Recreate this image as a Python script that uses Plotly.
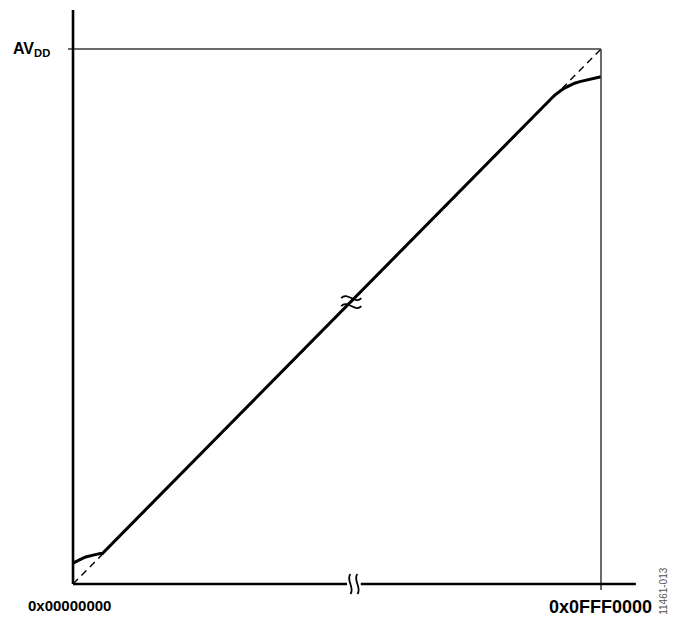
import plotly.graph_objects as go

# Normalised code axis (0 = 0x00000000, 1 = 0x0FFF0000) and output axis (1 = AVDD)
ideal_code = [0.0, 1.0]
ideal_out = [0.0, 1.0]

actual_code = [0.0, 0.008, 0.016, 0.024, 0.032, 0.042, 0.050, 0.056,
               0.912, 0.918, 0.924, 0.932, 0.941, 0.950, 0.960, 0.970, 0.979, 0.990, 1.0]
actual_out = [0.039, 0.0435, 0.047, 0.0505, 0.0530, 0.0550, 0.0565, 0.0575,
              0.9135, 0.9185, 0.9225, 0.9275, 0.9325, 0.9360, 0.9390, 0.9415, 0.9435, 0.9455, 0.948]

x_labels = ["0x00000000", "0x0FFF0000"]
y_label = "AV<sub>DD</sub>"
fig_id = "11461-013"

FONT = "Liberation Sans, Arial, sans-serif"

fig = go.Figure()

# ideal transfer function (dashed)
fig.add_trace(go.Scatter(
    x=ideal_code, y=ideal_out, mode="lines",
    line=dict(color="black", width=1.4, dash="7px,5px"),
    hoverinfo="skip", showlegend=False))

# actual output with rail limiting at both ends
fig.add_trace(go.Scatter(
    x=actual_code, y=actual_out, mode="lines",
    line=dict(color="black", width=3),
    hoverinfo="skip", showlegend=False))

shapes = [
    # full-scale reference lines
    dict(type="line", x0=-0.0095, x1=1.0, y0=1.0, y1=1.0,
         line=dict(color="#3a3a3a", width=1.5)),
    dict(type="line", x0=1.0, x1=1.0, y0=1.0, y1=-0.0112,
         line=dict(color="#3a3a3a", width=1.5)),
    # axes (x axis broken in the middle)
    dict(type="line", x0=0.0, x1=0.0, y0=0.0, y1=1.073,
         line=dict(color="black", width=2.6)),
    dict(type="line", x0=0.0, x1=0.519, y0=0.0, y1=0.0,
         line=dict(color="black", width=2.6)),
    dict(type="line", x0=0.545, x1=1.066, y0=0.0, y1=0.0,
         line=dict(color="black", width=2.6)),
]

# break marks drawn as pixel-sized wavy strokes anchored in data space
tilde_h = "M -10,{y} C -4,{a} 4,{b} 10,{y}"
diag_break = " ".join(tilde_h.format(y=y, a=y + 7, b=y - 7) for y in (4, -4))
tilde_v = "M {x},-10 C {a},-4 {b},4 {x},10"
axis_break = " ".join(tilde_v.format(x=x, a=x + 5, b=x - 5) for x in (-3.5, 3.5))

shapes += [
    dict(type="path", xsizemode="pixel", ysizemode="pixel",
         xanchor=0.527, yanchor=0.527, path=diag_break,
         line=dict(color="black", width=1.8)),
    dict(type="path", xsizemode="pixel", ysizemode="pixel",
         xanchor=0.532, yanchor=0.0, path=axis_break,
         line=dict(color="black", width=1.8)),
]

annotations = [
    dict(x=-0.0795, y=1.0, text="<b>" + y_label + "</b>", showarrow=False,
         xanchor="center", yanchor="middle", font=dict(family=FONT, size=16, color="black")),
    dict(x=-0.0076, y=-0.041, text="<b>" + x_labels[0] + "</b>", showarrow=False,
         xanchor="center", yanchor="middle", font=dict(family=FONT, size=15, color="black")),
    dict(x=1.0, y=-0.043, text="<b>" + x_labels[1] + "</b>", showarrow=False,
         xanchor="center", yanchor="middle", font=dict(family=FONT, size=18, color="black")),
    dict(x=1.119, y=-0.013, text=fig_id, showarrow=False, textangle=-90,
         xanchor="center", yanchor="middle", font=dict(family=FONT, size=10, color="#555555")),
]

fig.update_layout(
    width=673, height=619,
    margin=dict(l=0, r=0, t=0, b=0),
    paper_bgcolor="white", plot_bgcolor="white",
    xaxis=dict(range=[-0.1383, 1.1364], visible=False, fixedrange=True),
    yaxis=dict(range=[-0.0654, 1.0916], visible=False, fixedrange=True),
    shapes=shapes, annotations=annotations,
    showlegend=False,
)

fig.write_html("out.html")
